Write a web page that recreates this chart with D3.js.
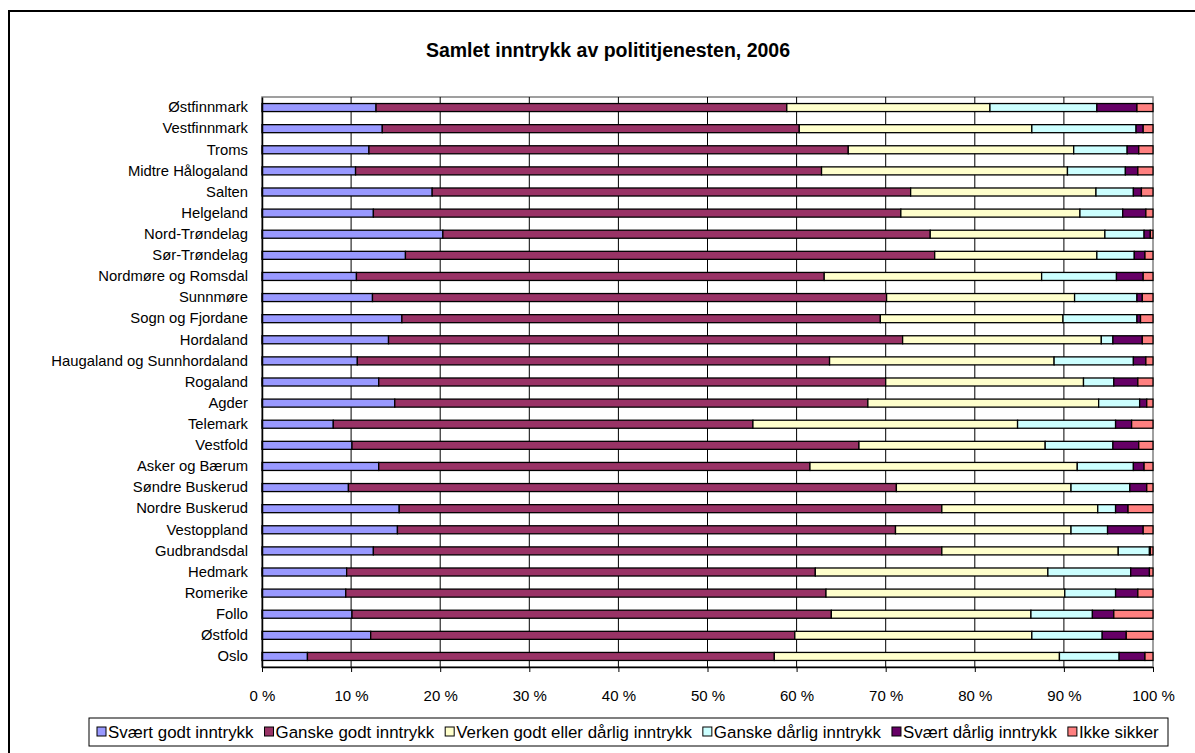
<!DOCTYPE html>
<html><head><meta charset="utf-8">
<script src="https://cdn.jsdelivr.net/npm/d3@7"></script>
<style>body{margin:0;background:#fff}svg{display:block;font-family:Arial,"Liberation Sans",sans-serif}</style>
</head><body>
<svg id="chart" width="1195" height="753"></svg>
<script>
const categories = ["Østfinnmark","Vestfinnmark","Troms","Midtre Hålogaland","Salten","Helgeland","Nord-Trøndelag","Sør-Trøndelag","Nordmøre og Romsdal","Sunnmøre","Sogn og Fjordane","Hordaland","Haugaland og Sunnhordaland","Rogaland","Agder","Telemark","Vestfold","Asker og Bærum","Søndre Buskerud","Nordre Buskerud","Vestoppland","Gudbrandsdal","Hedmark","Romerike","Follo","Østfold","Oslo"];
const seriesNames = ["Svært godt inntrykk","Ganske godt inntrykk","Verken godt eller dårlig inntrykk","Ganske dårlig inntrykk","Svært dårlig inntrykk","Ikke sikker"];
const svaertGodt   = [12.8,13.5,12.0,10.5,19.1,12.5,20.3,16.1,10.6,12.4,15.7,14.2,10.7,13.1,14.9,8.0,10.1,13.1,9.7,15.4,15.2,12.5,9.5,9.4,10.1,12.2,5.1];
const ganskeGodt   = [46.1,46.8,53.8,52.3,53.7,59.2,54.7,59.4,52.5,57.7,53.7,57.7,53.0,56.9,53.1,47.1,56.9,48.4,61.5,60.9,55.9,63.8,52.6,53.9,53.8,47.6,52.4];
const verken       = [22.8,26.1,25.3,27.6,20.8,20.1,19.6,18.2,24.4,21.1,20.5,22.3,25.2,22.2,25.9,29.7,20.9,30.0,19.6,17.5,19.7,19.8,26.1,26.8,22.4,26.6,32.0];
const ganskeDaarlig= [12.0,11.7,6.0,6.5,4.2,4.8,4.4,4.2,8.4,7.0,8.3,1.3,8.9,3.4,4.6,11.0,7.6,6.3,6.6,2.0,4.1,3.5,9.3,5.7,6.9,7.9,6.7];
const svaertDaarlig= [4.5,0.8,1.3,1.4,0.9,2.6,0.7,1.2,3.0,0.6,0.4,3.3,1.4,2.7,0.8,1.8,2.9,1.2,1.9,1.4,4.0,0.1,2.1,2.5,2.4,2.7,2.9];
const ikkeSikker   = [1.8,1.1,1.6,1.7,1.3,0.8,0.3,0.9,1.1,1.2,1.4,1.2,0.8,1.7,0.7,2.4,1.6,1.0,0.7,2.8,1.1,0.3,0.4,1.7,4.4,3.0,0.9];
const tickValues = [0,0.1,0.2,0.3,0.4,0.5,0.6,0.7,0.8,0.9,1.0];
const colors = ["#9999FF","#993366","#FFFFCC","#CCFFFF","#660066","#FF8080"];

const allSeries = [svaertGodt,ganskeGodt,verken,ganskeDaarlig,svaertDaarlig,ikkeSikker];
const rows = categories.map((c,i)=>{
  const o={cat:c};
  let tot=0; allSeries.forEach(s=>tot+=s[i]);
  seriesNames.forEach((n,k)=>o[n]=allSeries[k][i]/tot);
  return o;
});
const stacked = d3.stack().keys(seriesNames)(rows);

const svg = d3.select("#chart");
const L=262,R=1153,T=97,B=667;
const x = d3.scaleLinear().domain([0,1]).range([L,R]);
const y = d3.scaleBand().domain(categories).range([T,B]).paddingInner(0.62).paddingOuter(0.31);

svg.append("rect").attr("x",9).attr("y",11).attr("width",1200).attr("height",760)
  .attr("fill","none").attr("stroke","#000").attr("stroke-width",2);

svg.append("text").attr("x",608).attr("y",57).attr("text-anchor","middle")
  .attr("font-size",19.5).attr("font-weight","bold").text("Samlet inntrykk av polititjenesten, 2006");

svg.append("rect").attr("x",L).attr("y",T).attr("width",R-L).attr("height",B-T)
  .attr("fill","none").attr("stroke","#808080").attr("stroke-width",1.5);

svg.append("g").selectAll("line").data(tickValues.slice(1,-1)).join("line")
  .attr("x1",d=>x(d)).attr("x2",d=>x(d)).attr("y1",T).attr("y2",B)
  .attr("stroke","#000").attr("stroke-width",1);

svg.append("g").selectAll("g").data(stacked).join("g")
  .attr("fill",(d,i)=>colors[i])
  .selectAll("rect").data(d=>d).join("rect")
  .attr("x",d=>x(d[0])).attr("width",d=>x(d[1])-x(d[0]))
  .attr("y",d=>y(d.data.cat)).attr("height",y.bandwidth())
  .attr("stroke","#000").attr("stroke-width",1.3);

const xAxis = d3.axisBottom(x).tickValues(tickValues).tickFormat(d=>Math.round(d*100)+" %").tickSize(5).tickSizeOuter(0);
const gx = svg.append("g").attr("transform",`translate(0,${B})`).call(xAxis);
gx.select(".domain").attr("stroke","#000").attr("stroke-width",1.5);
gx.selectAll(".tick line").attr("stroke","#000");
gx.selectAll("text").attr("font-size",15).attr("font-family","Arial, Liberation Sans, sans-serif").attr("fill","#000").attr("dy","1.7em");

const yAxis = d3.axisLeft(y).tickSize(0).tickPadding(14);
const gy = svg.append("g").attr("transform",`translate(${L},0)`).call(yAxis);
gy.select(".domain").attr("stroke","#000").attr("stroke-width",1.5);
gy.selectAll("text").attr("font-size",14.8).attr("font-family","Arial, Liberation Sans, sans-serif").attr("fill","#000");

const lg = svg.append("g");
lg.append("rect").attr("x",89).attr("y",718).attr("width",1079).attr("height",28)
  .attr("fill","#fff").attr("stroke","#000").attr("stroke-width",1);
let cx = 97;
seriesNames.forEach((n,i)=>{
  lg.append("rect").attr("x",cx).attr("y",727).attr("width",9).attr("height",9)
    .attr("fill",colors[i]).attr("stroke","#000").attr("stroke-width",1);
  const t = lg.append("text").attr("x",cx+11).attr("y",737.5).attr("font-size",16.9).text(n);
  cx += 11 + t.node().getComputedTextLength() + 11;
});
</script>
</body></html>
